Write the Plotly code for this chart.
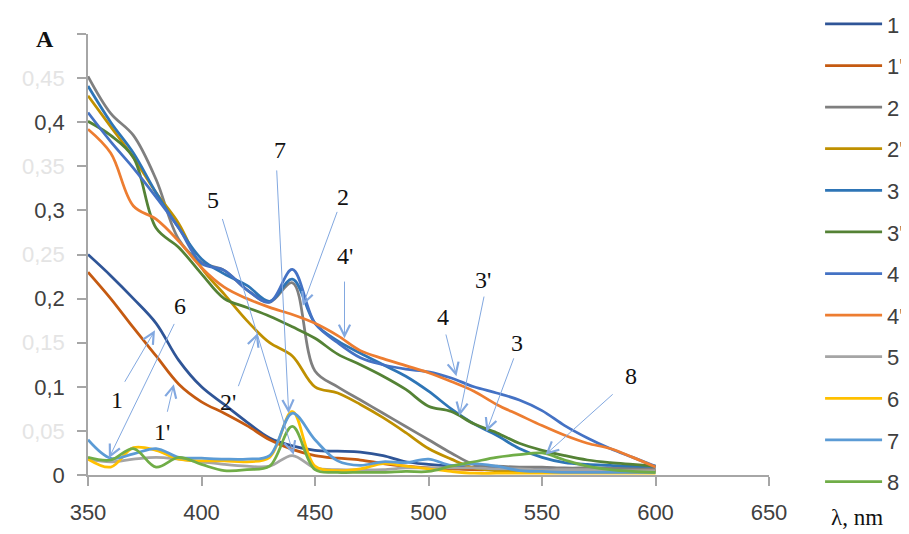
import plotly.graph_objects as go

wavelength = [350, 360, 370, 380, 390, 400, 410, 420, 430, 440, 450, 460, 470,
              480, 490, 500, 510, 520, 530, 540, 550, 560, 570, 580, 590, 600]

s1 = [0.25, 0.226, 0.2, 0.172, 0.13, 0.1, 0.08, 0.06, 0.042, 0.033, 0.028, 0.027, 0.026,
      0.022, 0.015, 0.012, 0.01, 0.009, 0.008, 0.008, 0.008, 0.007, 0.007, 0.007, 0.006, 0.006]
s1p = [0.23, 0.2, 0.167, 0.135, 0.103, 0.083, 0.07, 0.056, 0.04, 0.029, 0.022, 0.019, 0.017,
       0.013, 0.01, 0.008, 0.007, 0.006, 0.006, 0.006, 0.005, 0.005, 0.005, 0.005, 0.005, 0.005]
s2 = [0.452, 0.41, 0.385, 0.335, 0.267, 0.241, 0.232, 0.21, 0.196, 0.218, 0.118, 0.1, 0.085,
      0.07, 0.055, 0.04, 0.025, 0.012, 0.01, 0.009, 0.009, 0.008, 0.008, 0.008, 0.008, 0.008]
s2p = [0.43, 0.395, 0.36, 0.32, 0.285, 0.235, 0.205, 0.175, 0.15, 0.135, 0.1, 0.093, 0.08,
       0.065, 0.048, 0.03, 0.018, 0.008, 0.005, 0.004, 0.004, 0.004, 0.004, 0.004, 0.004, 0.004]
s3 = [0.441, 0.4, 0.365, 0.32, 0.28, 0.245, 0.228, 0.215, 0.197, 0.222, 0.172, 0.152, 0.138,
      0.125, 0.112, 0.095, 0.075, 0.058, 0.045, 0.03, 0.02, 0.014, 0.012, 0.011, 0.01, 0.01]
s3p = [0.401, 0.385, 0.36, 0.28, 0.258, 0.228, 0.2, 0.19, 0.18, 0.168, 0.155, 0.137, 0.125,
       0.112, 0.097, 0.078, 0.072, 0.058, 0.048, 0.036, 0.028, 0.022, 0.017, 0.014, 0.012, 0.01]
s4 = [0.411, 0.378, 0.348, 0.315, 0.28, 0.24, 0.232, 0.21, 0.196, 0.233, 0.172, 0.15, 0.133,
      0.125, 0.12, 0.117, 0.11, 0.1, 0.093, 0.085, 0.073, 0.056, 0.042, 0.03, 0.02, 0.01]
s4p = [0.392, 0.365, 0.305, 0.29, 0.265, 0.235, 0.213, 0.2, 0.19, 0.182, 0.172, 0.158, 0.141,
       0.132, 0.124, 0.116, 0.106, 0.095, 0.08, 0.068, 0.056, 0.045, 0.036, 0.03, 0.02, 0.009]
s5 = [0.018, 0.015, 0.018, 0.02, 0.018, 0.015, 0.012, 0.01, 0.01, 0.022, 0.008, 0.006, 0.006,
      0.006, 0.008, 0.008, 0.008, 0.008, 0.007, 0.007, 0.006, 0.006, 0.006, 0.005, 0.005, 0.005]
s6 = [0.018, 0.009, 0.031, 0.028, 0.018, 0.016, 0.016, 0.015, 0.02, 0.072, 0.01, 0.005, 0.007,
      0.013, 0.01, 0.007, 0.004, 0.002, 0.002, 0.002, 0.002, 0.002, 0.002, 0.002, 0.002, 0.002]
s7 = [0.04, 0.019, 0.024, 0.03, 0.02, 0.019, 0.018, 0.018, 0.022, 0.07, 0.04, 0.016, 0.011,
      0.015, 0.014, 0.018, 0.011, 0.013, 0.01, 0.005, 0.004, 0.003, 0.003, 0.003, 0.003, 0.003]
s8 = [0.02, 0.017, 0.03, 0.009, 0.02, 0.012, 0.005, 0.006, 0.01, 0.055, 0.006, 0.003, 0.003,
      0.003, 0.004, 0.004, 0.01, 0.015, 0.02, 0.023, 0.025, 0.017, 0.01, 0.006, 0.004, 0.003]

series_names = ["1", "1'", "2", "2'", "3", "3'", "4", "4'", "5", "6", "7", "8"]
series_values = [s1, s1p, s2, s2p, s3, s3p, s4, s4p, s5, s6, s7, s8]
series_colors = ["#2F5597", "#C55A11", "#7F7F7F", "#BF9000", "#2E75B6", "#548235",
                 "#4472C4", "#ED7D31", "#A5A5A5", "#FFC000", "#5B9BD5", "#70AD47"]

y_tickvals = [0, 0.05, 0.1, 0.15, 0.2, 0.25, 0.3, 0.35, 0.4, 0.45, 0.5]
y_ticklabels = ["0", "0,05", "0,1", "0,15", "0,2", "0,25", "0,3", "0,35", "0,4", "0,45", ""]
x_tickvals = [350, 400, 450, 500, 550, 600, 650]

# callout labels: (text, label x, label y, tail x, tail y, tip x, tip y)
callouts = [
    ("1", 362.8, 0.085, 365.8, 0.104, 379.5, 0.164),
    ("6", 390.5, 0.192, 388.3, 0.173, 359.2, 0.019),
    ("1'", 382.6, 0.049, 384.8, 0.070, 387.8, 0.103),
    ("2'", 411.6, 0.083, 416.0, 0.099, 424.8, 0.161),
    ("5", 405.0, 0.312, 409.0, 0.292, 440.6, 0.023),
    ("7", 434.5, 0.368, 433.1, 0.347, 438.4, 0.070),
    ("2", 462.2, 0.315, 460.0, 0.300, 444.6, 0.192),
    ("4'", 463.0, 0.248, 463.0, 0.221, 463.0, 0.155),
    ("4", 506.2, 0.179, 507.5, 0.161, 512.3, 0.112),
    ("3'", 523.8, 0.221, 524.6, 0.204, 513.6, 0.067),
    ("3", 539.2, 0.150, 537.8, 0.134, 525.5, 0.049),
    ("8", 589.3, 0.112, 581.8, 0.093, 551.5, 0.023),
]

fig = go.Figure()
for name, vals, col in zip(series_names, series_values, series_colors):
    fig.add_trace(go.Scatter(
        x=wavelength, y=vals, name=name, mode="lines",
        line=dict(color=col, width=2.75, shape="spline", smoothing=1.0),
        legendgroup=name,
    ))

faded = {0.05, 0.15, 0.25, 0.35, 0.45}
ytext = []
for v, t in zip(y_tickvals, y_ticklabels):
    if v in faded:
        ytext.append('<span style="color:#e4e4e4">%s</span>' % t)
    else:
        ytext.append(t)

# the page body has an 8px margin, so the figure is sized and placed for it
W, H = 901, 526
L, R, T, B = 80, 140, 26, 59
pw, ph = W - L - R, H - T - B
OFF = 8  # page offset of the figure

annotations = []
arrow_col = "#82A8E0"
for t, lx, ly, tx, ty, px, py in callouts:
    annotations.append(dict(
        x=px, y=py, ax=tx, ay=ty, xref="x", yref="y", axref="x", ayref="y",
        text="", showarrow=True, arrowhead=5, arrowsize=2.2, arrowwidth=1,
        arrowcolor=arrow_col, standoff=0, startstandoff=0,
    ))
    annotations.append(dict(
        x=lx, y=ly, xref="x", yref="y", text=t, showarrow=False,
        xanchor="center", yanchor="middle",
        font=dict(family="Liberation Serif", size=24, color="#111111"),
    ))

# texts placed by page pixel position, converted to paper coordinates
pixel_texts = [
    ("<b>A</b>", 45, 39, 24),
    ("λ, nm", 857, 517, 23),
]
for t, px_, py_, fs in pixel_texts:
    annotations.append(dict(
        x=(px_ - OFF - L) / pw, y=1 - (py_ - OFF - T) / ph,
        xref="paper", yref="paper", text=t, showarrow=False,
        xanchor="center", yanchor="middle",
        font=dict(family="Liberation Serif", size=fs, color="#111111"),
    ))

fig.update_layout(
    width=W, height=H,
    margin=dict(l=L, r=R, t=T, b=B, autoexpand=False),
    paper_bgcolor="white", plot_bgcolor="white",
    font=dict(family="Liberation Sans", size=22, color="#404040"),
    showlegend=True,
    legend=dict(
        x=1.075, y=1.07, xanchor="left", yanchor="top",
        font=dict(family="Liberation Sans", size=22, color="#404040"),
        itemwidth=57, tracegroupgap=10, bgcolor="rgba(0,0,0,0)",
        maxheight=526,
    ),
    xaxis=dict(
        range=[350, 650], tickvals=x_tickvals, showgrid=False, zeroline=False,
        showline=True, linecolor="#A6A6A6", linewidth=1.5,
        ticks="outside", ticklen=9, tickcolor="#A6A6A6", tickwidth=1.5,
        ticklabelstandoff=8, automargin=False,
    ),
    yaxis=dict(
        range=[0, 0.5], tickvals=y_tickvals, ticktext=ytext, showgrid=False,
        zeroline=False, showline=True, linecolor="#A6A6A6", linewidth=1.5,
        ticks="outside", ticklen=9, tickcolor="#A6A6A6", tickwidth=1.5,
        ticklabelstandoff=8, automargin=False,
    ),
    annotations=annotations,
)

fig.write_html("out.html")
